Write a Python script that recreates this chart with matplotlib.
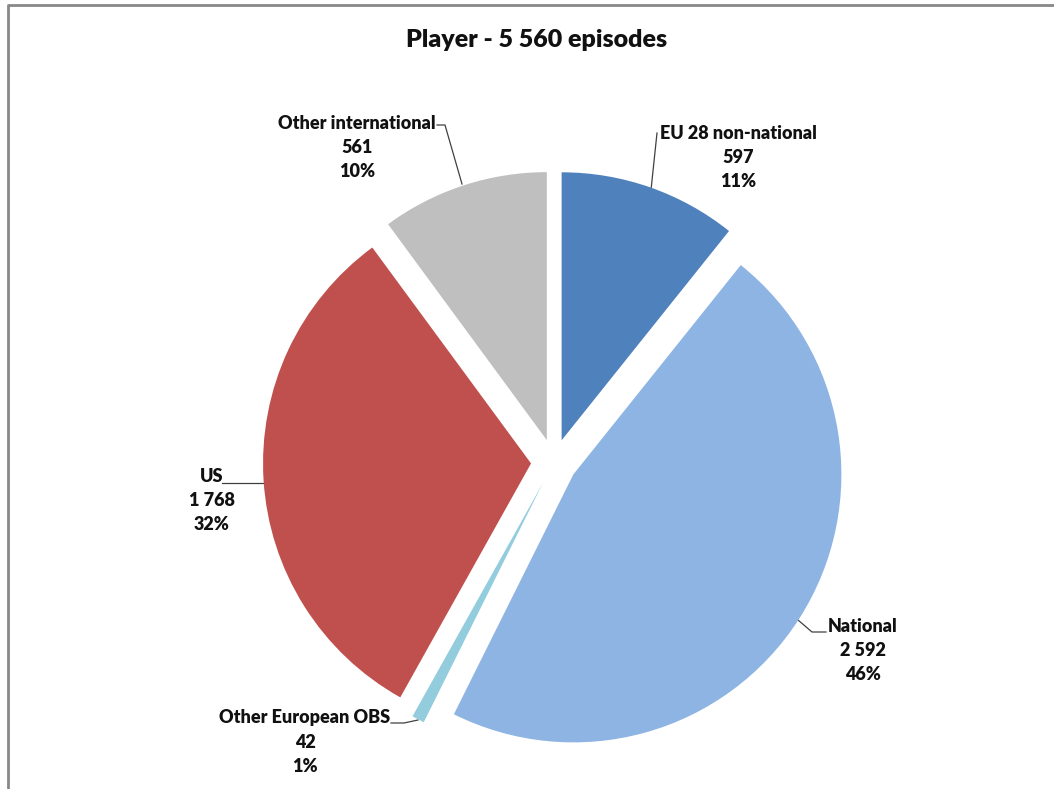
import matplotlib
matplotlib.use("Agg")
import matplotlib.pyplot as plt

W, H = 1054, 789

categories = ["EU 28 non-national", "National", "Other European OBS", "US", "Other international"]
values = [597, 2592, 42, 1768, 561]
value_labels = ["597", "2 592", "42", "1 768", "561"]
pct_labels = ["11%", "46%", "1%", "32%", "10%"]
colors = ["#4F81BD", "#8EB4E3", "#93CDDD", "#C0504D", "#BFBFBF"]
title = "Player - 5 560 episodes"

plt.rcParams['font.family'] = ['Lato', 'DejaVu Sans']

fig = plt.figure(figsize=(W / 100, H / 100), dpi=100)
ax = fig.add_axes([0, 0, 1, 1])
ax.set_xlim(0, W)
ax.set_ylim(H, 0)
ax.axis('off')

# pie drawn in its own axes aligned to pixel coordinates
pax = fig.add_axes([0, 0, 1, 1])
cx, cy, r = 554, H - 462, 268
pax.pie(values, colors=colors, startangle=90, counterclock=False,
        explode=[23] * 5, radius=r, center=(cx, cy), frame=True,
        wedgeprops=dict(linewidth=0))
pax.set_xlim(0, W)
pax.set_ylim(0, H)
pax.axis('off')

# frame
ax.plot([8, 8, W + 5], [H + 5, 5, 5], color="#888888", lw=2, solid_capstyle='butt')

ax.text(537, 40, title, ha='center', va='center', fontsize=18, fontweight='heavy', color='#111111')

# label positions (pixel, top-down)
label_pos = {
    0: (738, 157),
    1: (863, 651),
    2: (305, 742),
    3: (212, 500),
    4: (357, 147),
}
leaders = {
    0: [(657, 133), (651, 190)],
    1: [(826, 632), (812, 632), (798, 620)],
    2: [(391, 723), (404, 723), (418, 720)],
    3: [(222, 483), (263, 483)],
    4: [(437, 125), (445, 125), (462, 184)],
}
for i in range(len(values)):
    x, y = label_pos[i]
    ax.text(x, y, f"{categories[i]}\n{value_labels[i]}\n{pct_labels[i]}", ha='center', va='center',
            fontsize=13, fontweight='heavy', linespacing=1.5, color='#111111')
    xs = [p[0] for p in leaders[i]]
    ys = [p[1] for p in leaders[i]]
    ax.plot(xs, ys, color='#404040', lw=0.9)

fig.savefig("out.png", dpi=100)
